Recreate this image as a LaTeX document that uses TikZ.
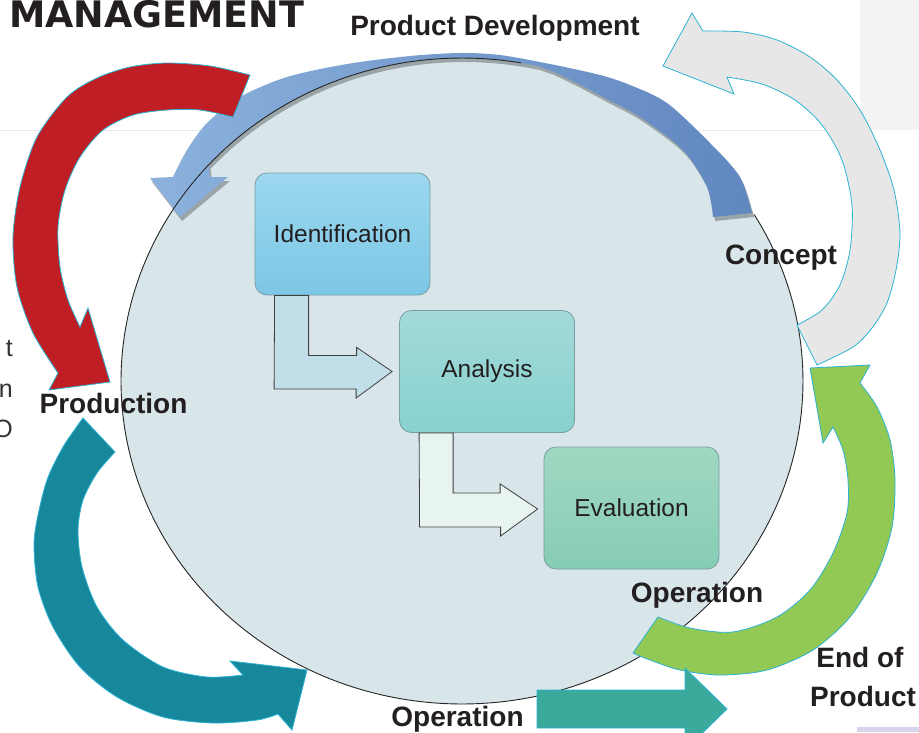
\documentclass[tikz,border=0pt]{standalone}
\usepackage{fontspec}
\setmainfont{Liberation Sans}
\newfontfamily\mgfont{DejaVu Sans}
\usetikzlibrary{calc}
\definecolor{ellfill}{HTML}{D8E5E9}
\definecolor{redarr}{HTML}{BE1E24}
\definecolor{tealarr}{HTML}{17879C}
\definecolor{tealblk}{HTML}{3BA99C}
\definecolor{greenarr}{HTML}{92C954}
\definecolor{greyarr}{HTML}{E8E7E8}
\definecolor{cyanline}{HTML}{2BB3D3}
\definecolor{bluelight}{HTML}{8BB1DD}
\definecolor{bluedark}{HTML}{6187C0}
\definecolor{lbltxt}{HTML}{231F20}
\definecolor{boxline}{HTML}{7A9EA3}
\definecolor{idtop}{HTML}{9CD8EE}
\definecolor{idbot}{HTML}{7CC7E6}
\definecolor{antop}{HTML}{A3DADA}
\definecolor{anbot}{HTML}{86D1CE}
\definecolor{evtop}{HTML}{A0D8C2}
\definecolor{evbot}{HTML}{86CCB5}
\definecolor{connA}{HTML}{C2DEE8}
\definecolor{connB}{HTML}{E8F4EF}
\definecolor{panelgrey}{HTML}{F3F3F3}
\definecolor{lavender}{HTML}{D8D4EC}
\newcommand\bluebandpath[1]{%
  \path[#1] (210,177) -- ({462+341*cos(222)},{381+323*sin(222)})
    -- plot[domain=222:283, samples=40, variable=\t] ({462+341*cos(\t)},{381+323*sin(\t)})
    -- plot[smooth] coordinates {(552,71) (575,82) (605,98) (640,117) (683,150) (707,187) (713,217)}
    -- (752,213)
    -- plot[smooth] coordinates {(752,213) (740,177) (710,143) (667,103) (630,85) (600,75) (550,64) (500,55) (460,53) (410,56) (347,64) (287,77) (240,97) (207,123) (187,150) (173,177)}
    -- (150,178) -- (180,217) -- (228,177) -- cycle;}
\begin{document}
\begin{tikzpicture}[x=1pt,y=-1pt,
  box/.style={rounded corners=12pt, draw=boxline, line width=0.8pt, minimum width=175pt, minimum height=122pt, inner sep=0pt, font=\fontsize{24.5}{28}\selectfont, text=lbltxt},
  lbl/.style={font=\fontsize{28}{30}\selectfont\bfseries, text=lbltxt, inner sep=0pt},
  frag/.style={font=\fontsize{25}{28}\selectfont, text=black!80, inner sep=0pt},
  band/.style={draw=cyanline, line width=0.8pt},
  conn/.style={draw=black!75, line width=0.8pt}]
\useasboundingbox (0,0) rectangle (919,732);
\fill[white] (0,0) rectangle (919,732);
% background panel
\fill[panelgrey] (860,0) rectangle (919,130);
\draw[black!8, line width=1pt] (0,130.5) -- (860,130.5);
\fill[lavender] (857,727) rectangle (919,732);
% main disc
\fill[ellfill] (462,381) ellipse [x radius=341, y radius=323];
% blue product development band
\bluebandpath{fill=black, opacity=0.28, shift={(2,4)}}
\bluebandpath{left color=bluelight, right color=bluedark}
\draw[black!85, line width=0.9pt] plot[domain=-31:280, samples=220, variable=\t] ({462+341*cos(\t)},{381+323*sin(\t)});
% red arrow
\path[band, fill=redarr] (250,75)
  -- plot[smooth] coordinates {(250,75) (210,66) (167,63) (130,67) (97,78) (67,97) (37,137) (20,187) (13,237) (17,287) (33,333) (58,373)}
  -- (49,390) -- (110,382) -- (88,308) -- (80,327)
  -- plot[smooth] coordinates {(80,327) (68,300) (60,267) (58,227) (65,190) (80,157) (103,130) (133,115) (167,110) (200,110) (233,117)}
  -- cycle;
% grey arrow
\path[band, fill=greyarr] (703,31)
  -- plot[smooth] coordinates {(703,31) (743,32) (777,40) (810,57) (837,80) (860,110) (880,150) (894,190) (900,233) (896,270) (887,303) (872,328) (853,347) (817,365)}
  -- (797,325)
  -- plot[smooth] coordinates {(797,325) (822,310) (840,285) (850,250) (852,205) (842,160) (822,125) (795,100) (762,84) (727,77)}
  -- (734,94) -- (663,66) -- (692,13) -- cycle;
% green arrow
\path[band, fill=greenarr] (860,383)
  -- plot[smooth] coordinates {(860,383) (877,407) (890,440) (895,480) (892,527) (877,573) (850,617) (813,650) (767,670) (720,675) (680,670) (650,660) (633,653)}
  -- (658,617)
  -- plot[smooth] coordinates {(658,617) (690,628) (733,632) (777,617) (810,590) (833,553) (847,513) (848,480) (843,450) (833,427)}
  -- (823,443) -- (810,368) -- (870,365) -- cycle;
% teal arrow
\path[band, fill=tealarr] (83,418)
  -- plot[smooth] coordinates {(83,418) (63,447) (47,480) (37,520) (34,547) (38,587) (53,627) (80,667) (117,697) (163,717) (213,723) (257,720) (278,714)}
  -- (292,730) -- (307,670) -- (230,661) -- (243,675)
  -- plot[smooth] coordinates {(243,675) (207,677) (163,667) (123,640) (97,607) (82,567) (78,530) (83,500) (97,473) (115,452)}
  -- cycle;
% bottom block arrow
\path[band, fill=tealblk] (537,690) -- (685,690) -- (685,668) -- (727,709) -- (685,750) -- (685,728) -- (537,728) -- cycle;
% process boxes
\node[box, top color=idtop, bottom color=idbot] (ident) at (342.5,234) {Identification};
\node[box, top color=antop, bottom color=anbot] (ana) at (487,371.5) {Analysis};
\node[box, top color=evtop, bottom color=evbot] (eval) at (631.5,508) {Evaluation};
% elbow connectors
\coordinate (a1) at ($(ident.south west)+(20,0)$);
\coordinate (a2) at ($(ident.south west)+(54,0)$);
\coordinate (t1) at ($(ana.west)+(-7,0)$);
\draw[conn, fill=connA] (a1) -- (a2) -- ++(0,60) -- ++(48,0) -- ++(0,-8) -- (t1) -- ++(-36,26.5) -- ++(0,-9) -- ++(-82,0) -- cycle;
\coordinate (b1) at ($(ana.south west)+(20,0)$);
\coordinate (b2) at ($(ana.south west)+(54,0)$);
\coordinate (t2) at ($(eval.west)+(-6,1)$);
\draw[conn, fill=connB] (b1) -- (b2) -- ++(0,60) -- ++(47,0) -- ++(0,-9) -- (t2) -- ++(-37,27) -- ++(0,-9) -- ++(-81,0) -- cycle;
% labels
\node[anchor=base west, inner sep=0pt, font=\mgfont\fontsize{36.5}{40}\selectfont\bfseries, text=lbltxt] (mg) at (9,27) {MANAGEMENT};
\node[lbl, anchor=base] (pd) at (495,35) {Product Development};
\node[lbl, anchor=base] (concept) at (781,264) {Concept};
\node[lbl, anchor=base] (prod) at (113.5,413) {Production};
\node[lbl, anchor=base] (op1) at (697,602) {Operation};
\node[lbl, anchor=base] (op2) at (457.5,726) {Operation};
\node[lbl, anchor=base] (eop1) at (860,667) {End of};
\node[lbl, anchor=base] (eop2) at (863,706) {Product};
\begin{scope}
\clip (0,0) rectangle (919,732);
\node[frag, anchor=base east] (f1) at (13,356) {t};
\node[frag, anchor=base east] (f2) at (13,397) {n};
\node[frag, anchor=base east] (f3) at (13,437) {O};
\end{scope}
\end{tikzpicture}
\end{document}
